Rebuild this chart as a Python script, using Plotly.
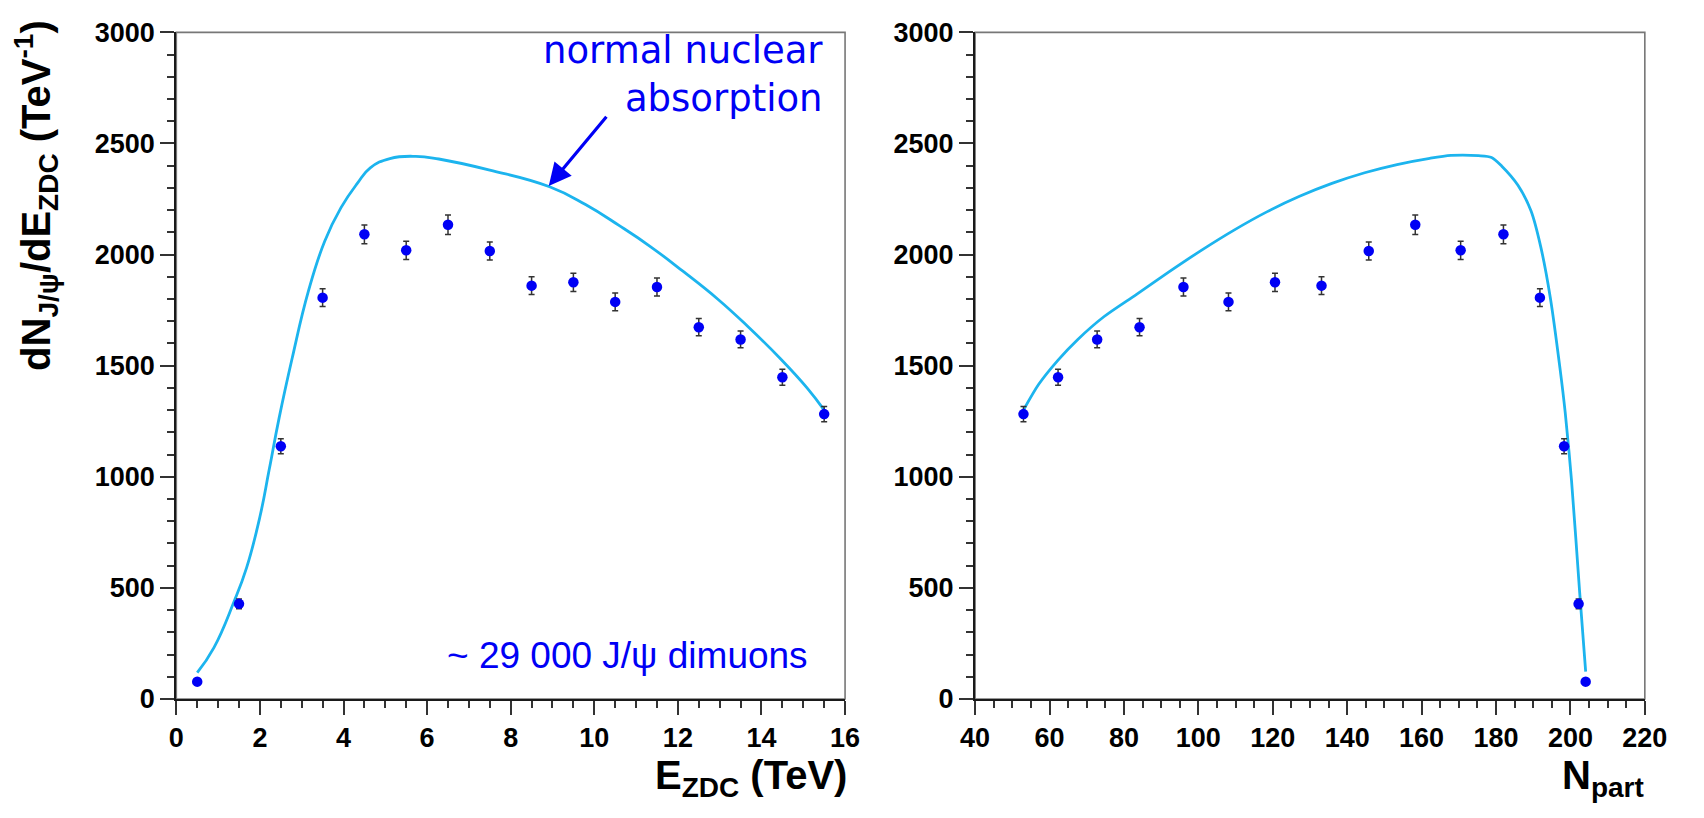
import plotly.graph_objects as go

# J/psi dimuon yield per E_ZDC bin (TeV^-1) with statistical errors
e_zdc = [0.5, 1.5, 2.5, 3.5, 4.5, 5.5, 6.5, 7.5, 8.5, 9.5, 10.5, 11.5, 12.5, 13.5, 14.5, 15.5]
n_part = [204.1, 202.2, 198.3, 191.8, 182.0, 170.5, 158.3, 145.8, 133.1, 120.6, 108.1, 96.0, 84.2, 72.8, 62.3, 53.0]
dn_de = [78, 428, 1137, 1806, 2091, 2019, 2134, 2016, 1860, 1875, 1787, 1854, 1673, 1618, 1448, 1282]
dn_de_err = [10, 22, 34, 40, 42, 41, 44, 41, 40, 41, 40, 41, 39, 38, 36, 34]

# Normal nuclear absorption expectation versus E_ZDC
abs_e = [0.5, 0.9, 1.37, 1.68, 2.0, 2.22, 2.46, 2.77, 3.16, 3.55, 3.94, 4.33, 4.64, 5.11,
         5.73, 6.28, 7.5, 8.93, 9.79, 10.6, 11.35, 12.12, 12.95, 13.68, 14.46, 15.09, 15.5]
abs_e_val = [118, 231, 433, 590, 820, 1030, 1265, 1532, 1835, 2060, 2211, 2320, 2390, 2432,
             2442, 2430, 2380, 2305, 2225, 2130, 2035, 1925, 1800, 1675, 1530, 1400, 1300]

# Same expectation versus N_part
abs_np = [53.0, 57.1, 62.3, 67.6, 74.6, 83.4, 92.1, 100.9, 109.6, 118.4, 127.2, 135.9, 144.7,
          153.4, 162.2, 167.9, 175.3, 178.8, 181.5, 185.9, 189.4, 192.0, 194.6, 197.2, 198.6,
          200.3, 202.5, 204.1]
abs_np_val = [1300, 1416, 1525, 1618, 1720, 1821, 1922, 2020, 2110, 2192, 2262, 2320, 2368,
              2405, 2433, 2446, 2445, 2437, 2399, 2312, 2197, 2037, 1806, 1488, 1290,
              983, 477, 123]

W, H = 1704, 818
X1 = (165, 849)
X2 = (982, 1667)
Y_TOP, Y_BOT = 18, 710

BLUE = "#0000f5"
CYAN = "#1cb4ee"
TICK_FONT = dict(family="Liberation Sans, Arial, sans-serif", size=27, color="black", weight="bold")
TITLE_FONT = dict(family="Liberation Sans, Arial, sans-serif", size=40, color="black", weight="bold")


def px_x(p):
    return p / W


def px_y(p):
    return 1 - p / H


fig = go.Figure()

for xs, xa, ya, cx, cy, sm in [(e_zdc, "x", "y", abs_e, abs_e_val, 1.3),
                               (n_part, "x2", "y2", abs_np, abs_np_val, 0.8)]:
    fig.add_trace(go.Scatter(
        x=cx, y=cy, xaxis=xa, yaxis=ya, mode="lines",
        line=dict(color=CYAN, width=2.8, shape="spline", smoothing=sm),
        showlegend=False, hoverinfo="skip",
    ))
    fig.add_trace(go.Scatter(
        x=xs, y=dn_de, xaxis=xa, yaxis=ya, mode="markers",
        marker=dict(color=BLUE, size=10.5),
        error_y=dict(type="data", array=dn_de_err, color="#333333", thickness=1.5, width=3),
        showlegend=False,
    ))

axis_common = dict(
    showline=True, linecolor="#1a1a1a", linewidth=2.2,
    ticks="outside", ticklen=14, tickwidth=2, tickcolor="#333333",
    showgrid=False, zeroline=False, tickfont=TICK_FONT,
)
minor_common = dict(ticks="outside", ticklen=7, tickwidth=1.5, tickcolor="#333333")

fig.update_layout(
    width=W, height=H,
    margin=dict(l=0, r=0, t=0, b=0),
    paper_bgcolor="white", plot_bgcolor="white",
    xaxis=dict(axis_common, domain=[px_x(X1[0]), px_x(X1[1])], range=[0, 16], dtick=2,
               anchor="y", minor=dict(minor_common, dtick=0.5)),
    yaxis=dict(axis_common, domain=[px_y(Y_BOT), px_y(Y_TOP)], range=[0, 3000], dtick=500,
               anchor="x", minor=dict(minor_common, dtick=100)),
    xaxis2=dict(axis_common, domain=[px_x(X2[0]), px_x(X2[1])], range=[40, 220], dtick=20,
                anchor="y2", minor=dict(minor_common, dtick=5)),
    yaxis2=dict(axis_common, domain=[px_y(Y_BOT), px_y(Y_TOP)], range=[0, 3000], dtick=500,
                anchor="x2", minor=dict(minor_common, dtick=100)),
)

# Grey frame on the top and right sides of each panel
for xr, yr in [("x domain", "y domain"), ("x2 domain", "y2 domain")]:
    fig.add_shape(type="rect", xref=xr, yref=yr, x0=0, x1=1, y0=0, y1=1,
                  line=dict(color="#777777", width=1.6), layer="below")

annotations = [
    # axis titles
    dict(text="E<sub>ZDC</sub> (TeV)", xref="paper", yref="paper", x=px_x(853), y=px_y(792),
         xanchor="right", yanchor="middle", showarrow=False, font=TITLE_FONT),
    dict(text="N<sub>part</sub>", xref="paper", yref="paper", x=px_x(1668), y=px_y(792),
         xanchor="right", yanchor="middle", showarrow=False, font=TITLE_FONT),
    dict(text="dN<sub>J/ψ</sub>/dE<sub>ZDC</sub> (TeV<sup>-1</sup>)", xref="paper", yref="paper",
         x=px_x(22), y=px_y(3), xanchor="center", yanchor="top", textangle=-90,
         showarrow=False, font=TITLE_FONT),
    # labels inside the left panel
    dict(text="normal nuclear<br>absorption", xref="x", yref="y", x=15.52, y=2810,
         xanchor="right", yanchor="middle", align="right", showarrow=False,
         font=dict(family="DejaVu Sans, Verdana, sans-serif", size=37, color=BLUE)),
    dict(text="~ 29 000 J/ψ dimuons", xref="x", yref="y", x=15.15, y=195,
         xanchor="right", yanchor="middle", showarrow=False,
         font=dict(family="Liberation Sans, Arial, sans-serif", size=37, color=BLUE)),
    dict(text="", xref="x", yref="y", x=8.91, y=2309, axref="x", ayref="y", ax=10.32, ay=2627,
         showarrow=True, arrowhead=2, arrowsize=1.4, arrowwidth=3.2, arrowcolor=BLUE, standoff=0),
]
fig.update_layout(annotations=annotations)

fig.write_html("out.html")
